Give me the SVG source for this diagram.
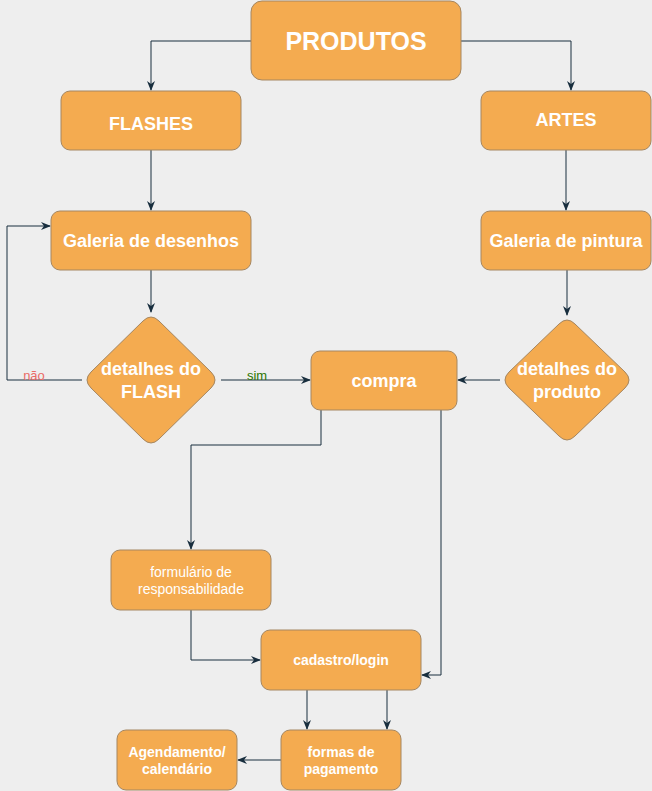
<svg xmlns="http://www.w3.org/2000/svg" width="652" height="791" viewBox="0 0 652 791">
<defs>
<style>
.n{fill:#F4AB50;stroke:#A58660;stroke-width:1}
.t{fill:#FFFFFF;font-family:"Liberation Sans",Arial,sans-serif;font-weight:bold;text-anchor:middle}
.r{font-weight:normal}
.c{fill:none;stroke:#182E3E;stroke-width:1}
</style>
<marker id="a" viewBox="0 0 10 10" refX="9" refY="5" markerWidth="10" markerHeight="10" markerUnits="userSpaceOnUse" orient="auto">
<path d="M0,1 L10,5 L0,9 L3,5 Z" fill="#182E3E"/>
</marker>
</defs>
<rect width="652" height="791" fill="#EEEEEE"/>
<g id="connectors">
<path class="c" d="M251,41 H151 V90" marker-end="url(#a)"/>
<path class="c" d="M461,41 H571 V90" marker-end="url(#a)"/>
<path class="c" d="M151,150 V210" marker-end="url(#a)"/>
<path class="c" d="M566,150 V210" marker-end="url(#a)"/>
<path class="c" d="M151,270 V312" marker-end="url(#a)"/>
<path class="c" d="M567,270 V315" marker-end="url(#a)"/>
<path class="c" d="M82,380 H7 V226 H50" marker-end="url(#a)"/>
<path class="c" d="M221,380 H310" marker-end="url(#a)"/>
<path class="c" d="M500,380 H458" marker-end="url(#a)"/>
<path class="c" d="M321,410 V445 H191 V549" marker-end="url(#a)"/>
<path class="c" d="M191,610 V660 H260" marker-end="url(#a)"/>
<path class="c" d="M441,410 V675 H422" marker-end="url(#a)"/>
<path class="c" d="M307,690 V729" marker-end="url(#a)"/>
<path class="c" d="M387,690 V729" marker-end="url(#a)"/>
<path class="c" d="M281,760 H238" marker-end="url(#a)"/>
<text x="34" y="380" font-family="Liberation Sans,Arial,sans-serif" font-size="13" fill="#EA6B66" text-anchor="middle">não</text>
<text x="257" y="380" font-family="Liberation Sans,Arial,sans-serif" font-size="13" fill="#2D7600" text-anchor="middle">sim</text>
</g>
<g id="produtos"><rect class="n" x="251" y="1" width="210" height="79" rx="11"/><text class="t" x="356" y="50" font-size="25">PRODUTOS</text></g>
<g id="flashes"><rect class="n" x="61" y="91" width="180" height="59" rx="9"/><text class="t" x="151" y="130" font-size="18">FLASHES</text></g>
<g id="artes"><rect class="n" x="481" y="91" width="170" height="59" rx="9"/><text class="t" x="566" y="126" font-size="18">ARTES</text></g>
<g id="galeria-desenhos"><rect class="n" x="51" y="211" width="200" height="59" rx="9"/><text class="t" x="151" y="247" font-size="18">Galeria de desenhos</text></g>
<g id="galeria-pintura"><rect class="n" x="481" y="211" width="170" height="59" rx="9"/><text class="t" x="566" y="247" font-size="18">Galeria de pintura</text></g>
<g id="detalhes-flash"><path class="n" d="M143,321 Q151,313 159,321 L211,372 Q219,380 211,388 L159,439 Q151,447 143,439 L91,388 Q83,380 91,372 Z"/><text class="t" x="151" y="375" font-size="18">detalhes do</text><text class="t" x="151" y="398" font-size="18">FLASH</text></g>
<g id="detalhes-produto"><path class="n" d="M559,324 Q567,316 575,324 L625,372 Q633,380 625,388 L575,436 Q567,444 559,436 L509,388 Q501,380 509,372 Z"/><text class="t" x="567" y="375" font-size="18">detalhes do</text><text class="t" x="567" y="398" font-size="18">produto</text></g>
<g id="compra"><rect class="n" x="311" y="351" width="146" height="59" rx="9"/><text class="t" x="384" y="387" font-size="18">compra</text></g>
<g id="formulario"><rect class="n" x="111" y="550" width="160" height="60" rx="9"/><text class="t r" x="191" y="577" font-size="14">formulário de</text><text class="t r" x="191" y="594" font-size="14">responsabilidade</text></g>
<g id="cadastro"><rect class="n" x="261" y="630" width="160" height="60" rx="9"/><text class="t" x="341" y="665" font-size="14">cadastro/login</text></g>
<g id="formas"><rect class="n" x="281" y="730" width="120" height="60" rx="9"/><text class="t" x="341" y="757" font-size="14">formas de</text><text class="t" x="341" y="774" font-size="14">pagamento</text></g>
<g id="agendamento"><rect class="n" x="117" y="730" width="120" height="60" rx="9"/><text class="t" x="177" y="757" font-size="14">Agendamento/</text><text class="t" x="177" y="774" font-size="14">calendário</text></g>
</svg>
